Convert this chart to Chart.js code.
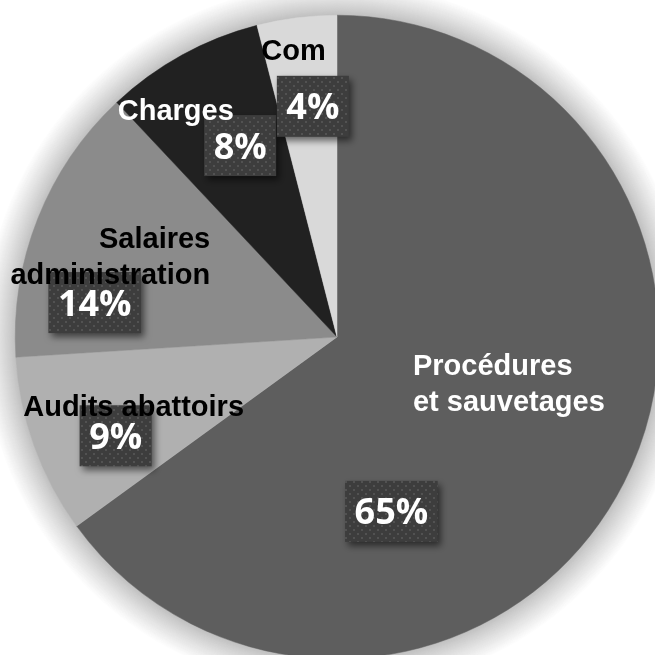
<!DOCTYPE html>
<html lang="fr">
<head>
    <meta charset="UTF-8">
    <title>Répartition des dépenses</title>
    <script src="https://cdn.jsdelivr.net/npm/chart.js"></script>
    <style>
        html, body {
            margin: 0;
            padding: 0;
            background: #ffffff;
            overflow: hidden;
            width: 655px;
            height: 655px;
        }
        .chart-box {
            position: absolute;
            left: 0;
            top: 0;
            width: 674px;
            height: 674px;
        }
    </style>
</head>
<body>
    <div class="chart-box">
        <canvas id="pieChart"></canvas>
    </div>

    <script>
        // données
        const categories = ['Procédures et sauvetages', 'Audits abattoirs', 'Salaires administration', 'Charges', 'Com'];
        const shares = [65, 9, 14, 8, 4];

        // style et placement des étiquettes (fractions du rayon, depuis le centre)
        const sliceColors = ['#5e5e5e', '#b0b0b0', '#8b8b8b', '#212121', '#d9d9d9'];
        const labelLines = [['Procédures', 'et sauvetages'], ['Audits abattoirs'], ['Salaires', 'administration'], ['Charges'], ['Com']];
        const labelColors = ['#ffffff', '#000000', '#000000', '#ffffff', '#000000'];
        const labelAlign = ['left', 'center', 'right', 'center', 'center'];
        const labelPos = [[0.236, 0.118], [-0.632, 0.245], [-0.394, -0.276], [-0.501, -0.674], [-0.135, -0.860]];
        const boxPos = [[0.169, 0.542], [-0.688, 0.307], [-0.753, -0.107], [-0.301, -0.595], [-0.075, -0.717]];

        // motif pointillé des cadres de pourcentage
        function dotPattern(ctx) {
            const c = document.createElement('canvas');
            c.width = 8; c.height = 8;
            const p = c.getContext('2d');
            p.fillStyle = '#3d3d3d';
            p.fillRect(0, 0, 8, 8);
            p.fillStyle = '#525252';
            p.fillRect(1, 1, 2, 2);
            p.fillRect(5, 5, 2, 2);
            return ctx.createPattern(c, 'repeat');
        }

        // halo gris : anneaux concentriques de plus en plus clairs, dessinés derrière
        function drawHalo(ctx, cx, cy, r) {
            ctx.save();
            ctx.globalCompositeOperation = 'destination-over';
            const steps = 32;
            for (let k = 0; k < steps; k++) {
                const t = k / steps;
                const shade = Math.round(192 + 63 * Math.pow(t, 0.9));
                ctx.beginPath();
                ctx.arc(cx, cy, r + k + 1, 0, Math.PI * 2);
                ctx.arc(cx, cy, r + k - 1, 0, Math.PI * 2, true);
                ctx.fillStyle = 'rgb(' + shade + ',' + shade + ',' + shade + ')';
                ctx.fill();
            }
            ctx.restore();
        }

        const sliceLabels = {
            id: 'sliceLabels',
            afterDraw(chart) {
                const meta = chart.getDatasetMeta(0);
                const arc = meta.data[0];
                if (!arc) return;
                const ctx = chart.ctx;
                const cx = arc.x, cy = arc.y, r = arc.outerRadius;
                const total = shares.reduce((a, b) => a + b, 0);
                const pattern = dotPattern(ctx);

                drawHalo(ctx, cx, cy, r);

                // cadres avec pourcentage
                ctx.save();
                ctx.font = 'bold 36px "Open Sans", sans-serif';
                shares.forEach((v, i) => {
                    const txt = Math.round(v / total * 100) + '%';
                    const w = ctx.measureText(txt).width + 19;
                    const h = 61;
                    const bx = cx + boxPos[i][0] * r;
                    const by = cy + boxPos[i][1] * r;
                    ctx.save();
                    ctx.shadowColor = 'rgba(0,0,0,0.55)';
                    ctx.shadowBlur = 7;
                    ctx.shadowOffsetX = 3;
                    ctx.shadowOffsetY = 4;
                    ctx.fillStyle = pattern;
                    ctx.fillRect(bx - w / 2, by - h / 2, w, h);
                    ctx.restore();
                    ctx.fillStyle = '#ffffff';
                    ctx.textAlign = 'center';
                    ctx.textBaseline = 'alphabetic';
                    ctx.fillText(txt, bx, by + 13);
                });
                ctx.restore();

                // noms des catégories
                ctx.save();
                ctx.font = 'bold 29px "Liberation Sans", Arial, sans-serif';
                ctx.textBaseline = 'alphabetic';
                labelLines.forEach((lines, i) => {
                    ctx.fillStyle = labelColors[i];
                    ctx.textAlign = labelAlign[i];
                    const lx = cx + labelPos[i][0] * r;
                    const ly = cy + labelPos[i][1] * r;
                    lines.forEach((line, k) => ctx.fillText(line, lx, ly + k * 36));
                });
                ctx.restore();
            }
        };

        new Chart(document.getElementById('pieChart'), {
            type: 'pie',
            data: {
                labels: categories,
                datasets: [{
                    data: shares,
                    backgroundColor: sliceColors,
                    borderColor: sliceColors,
                    borderWidth: 0.5
                }]
            },
            options: {
                responsive: true,
                maintainAspectRatio: false,
                animation: false,
                layout: { padding: 15 },
                plugins: {
                    legend: { display: false },
                    tooltip: { enabled: false }
                }
            },
            plugins: [sliceLabels]
        });
    </script>
</body>
</html>
